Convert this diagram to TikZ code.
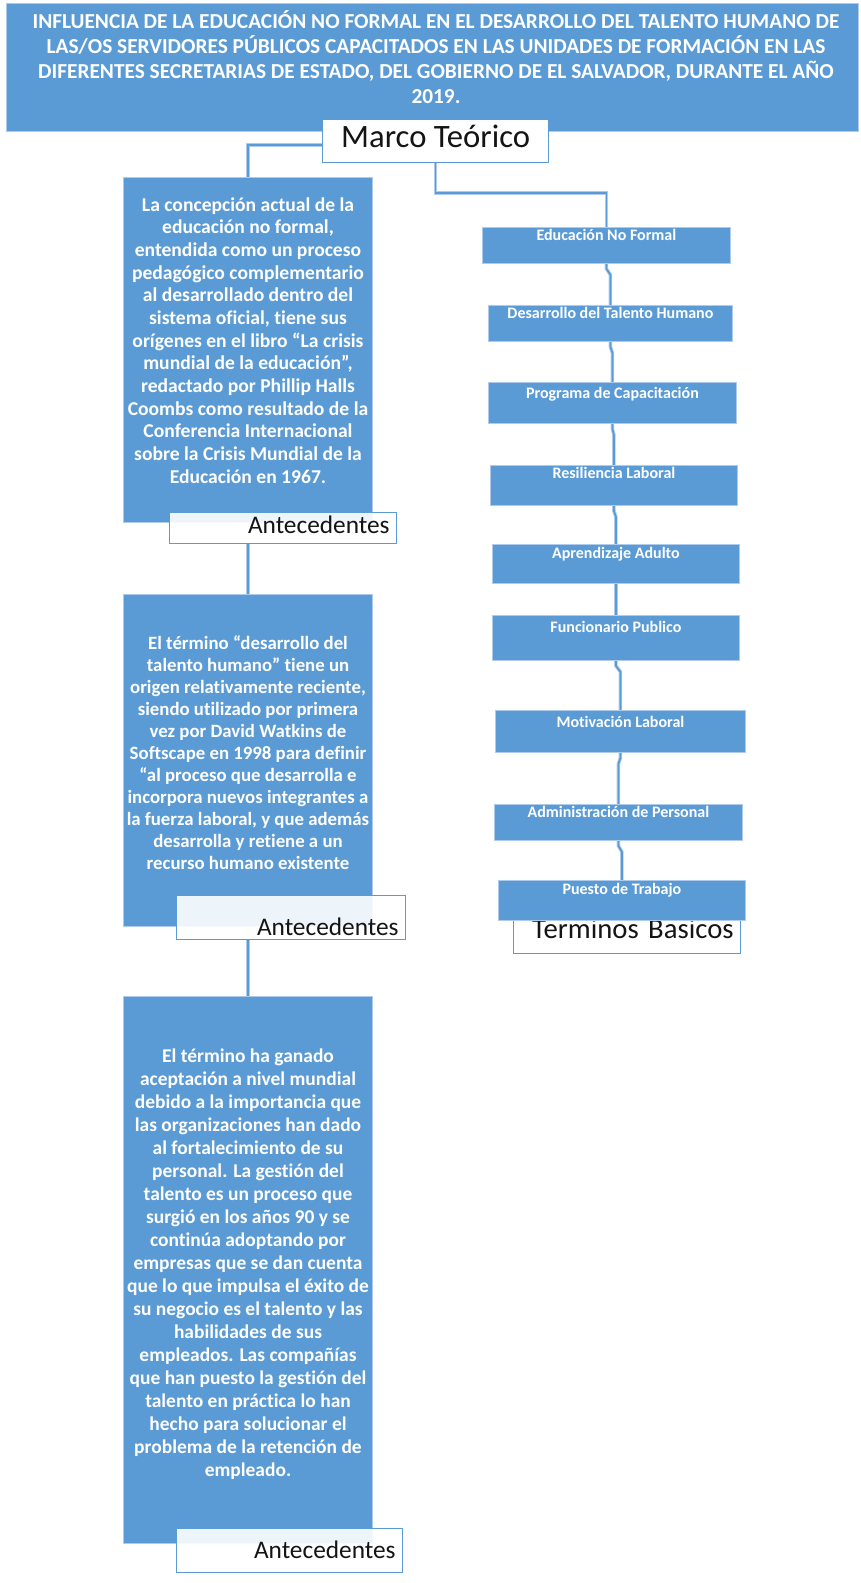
\documentclass[tikz,border=0pt]{standalone}
\usepackage{fontspec}
\setmainfont{Carlito}[Ligatures=CommonOff]
\usetikzlibrary{calc}
\definecolor{mblue}{RGB}{91,155,213}
\definecolor{eblue}{RGB}{175,203,235}
\definecolor{ink}{RGB}{20,20,20}
\pgfdeclarelayer{bg}
\pgfsetlayers{bg,main}
\begin{document}
\begin{tikzpicture}[x=0.75pt,y=-0.75pt,
  panel/.style={draw=eblue, line width=0.6pt, fill=mblue, anchor=north west, inner sep=0pt},
  bigbox/.style 2 args={panel, minimum width=#1, minimum height=#2},
  bodytext/.style={text=white, font=\bfseries\fontsize{14.7}{17}\selectfont, align=center, inner sep=0pt, anchor=north},
  term/.style args={#1/#2/#3}{panel, text=white, font=\bfseries\fontsize{12}{14}\selectfont, minimum width=#1, text height=#2, text depth=#3},
  tag/.style args={#1/#2/#3}{draw=mblue, line width=0.9pt, fill=white, fill opacity=0.9, text opacity=1, text=ink, font=\fontsize{19}{22}\selectfont, anchor=north west, inner xsep=5.25pt, inner ysep=0pt, text width=#1, align=right, text height=#2, text depth=#3},
  conn/.style={draw=mblue, line width=1.3pt, preaction={draw=eblue, line width=2.6pt}}
]
\useasboundingbox (0,0) rectangle (860,1583);

% title
\node[bigbox={639pt}{96pt}] (title) at (6,3) {};
\node[text=white, font=\bfseries\fontsize{16}{18.75}\selectfont, align=center, inner sep=0pt] (titletext) at (436,57)
  {INFLUENCIA DE LA EDUCACIÓN NO FORMAL EN EL DESARROLLO DEL TALENTO HUMANO DE\\
   LAS/OS SERVIDORES PÚBLICOS CAPACITADOS EN LAS UNIDADES DE FORMACIÓN EN LAS\\
   DIFERENTES SECRETARIAS DE ESTADO, DEL GOBIERNO DE EL SALVADOR, DURANTE EL AÑO\\
   2019.};

\node[draw=mblue, line width=0.9pt, fill=white, anchor=north west, inner sep=0pt, minimum width=169.5pt, text height=21pt, text depth=11.25pt, font=\fontsize{24.5}{28}\selectfont, text=ink] (mt) at (322,119) {Marco Teórico};

% left column
\node[bigbox={186.75pt}{258.75pt}] (b1) at (123,177) {};
\node[bodytext] (b1t) at (248,197) {La concepción actual de la\\
educación no formal,\\
entendida como un proceso\\
pedagógico complementario\\
al desarrollado dentro del\\
sistema oficial, tiene sus\\
orígenes en el libro “La crisis\\
mundial de la educación”,\\
redactado por Phillip Halls\\
Coombs como resultado de la\\
Conferencia Internacional\\
sobre la Crisis Mundial de la\\
Educación en 1967.};
\node[tag={159.75pt/15.75pt/7.5pt}] (a1) at (169,512) {Antecedentes};

\node[bigbox={186.75pt}{249pt}] (b2) at (123,594) {};
\node[bodytext, font=\bfseries\fontsize{14.1}{16.5}\selectfont] (b2t) at (248,635) {El término “desarrollo del\\
talento humano” tiene un\\
origen relativamente reciente,\\
siendo utilizado por primera\\
vez por David Watkins de\\
Softscape en 1998 para definir\\
“al proceso que desarrolla e\\
incorpora nuevos integrantes a\\
la fuerza laboral, y que además\\
desarrolla y retiene a un\\
recurso humano existente};
\node[tag={161.25pt/30pt/3pt}] (a2) at (176,895) {Antecedentes};

\node[bigbox={186.75pt}{410.25pt}] (b3) at (123,996) {};
\node[bodytext, font=\bfseries\fontsize{14.6}{17.25}\selectfont] (b3t) at (248,1049) {El término ha ganado\\
aceptación a nivel mundial\\
debido a la importancia que\\
las organizaciones han dado\\
al fortalecimiento de su\\
personal. La gestión del\\
talento es un proceso que\\
surgió en los años 90 y se\\
continúa adoptando por\\
empresas que se dan cuenta\\
que lo que impulsa el éxito de\\
su negocio es el talento y las\\
habilidades de sus\\
empleados. Las compañías\\
que han puesto la gestión del\\
talento en práctica lo han\\
hecho para solucionar el\\
problema de la retención de\\
empleado.};
\node[tag={159pt/22.5pt/10.5pt}] (a3) at (176,1528) {Antecedentes};

% right column
\node[term={186pt/9.75pt/17.25pt}] (t1) at (482,227) {Educación No Formal};
\node[term={183pt/9.75pt/17.25pt}] (t2) at (488,305) {Desarrollo del Talento Humano};
\node[term={186pt/12pt/18.75pt}] (t3) at (488,382) {Programa de Capacitación};
\node[term={185.25pt/9.75pt/20.25pt}] (t4) at (490,465) {Resiliencia Laboral};
\node[term={185.25pt/10.5pt/18.75pt}] (t5) at (492,544) {Aprendizaje Adulto};
\node[term={185.25pt/12.75pt/21pt}] (t6) at (492,615) {Funcionario Publico};
\node[term={187.5pt/12.75pt/18.75pt}] (t7) at (495,710) {Motivación Laboral};
\node[term={186pt/9.75pt/17.25pt}] (t8) at (494,804) {Administración de Personal};
\node[tag={159.75pt/30pt/11.25pt}, fill opacity=1, font=\fontsize{21.5}{24}\selectfont] (tb) at (513,898) {Terminos Basicos};
\node[term={185.25pt/10.5pt/19.5pt}] (t9) at (498,880) {Puesto de Trabajo};

\begin{pgfonlayer}{bg}
\draw[conn] ($(mt.west)+(0,4)$) -| (b1.north);
\draw[conn] (mt.south) -- ++(0,30) -| (t1.north);
\draw[conn] (a1.south -| b2.north) -- (b2.north);
\draw[conn] (a2.south -| b3.north) -- (b3.north);
\foreach \u/\v in {t1/t2,t2/t3,t3/t4,t4/t5,t5/t6,t6/t7,t7/t8,t8/t9}
  \draw[conn] (\u.south) -- ++(0,5) -- ($(\u.south -| \v.north)+(0,11)$) -- (\v.north);
\end{pgfonlayer}
\end{tikzpicture}
\end{document}
